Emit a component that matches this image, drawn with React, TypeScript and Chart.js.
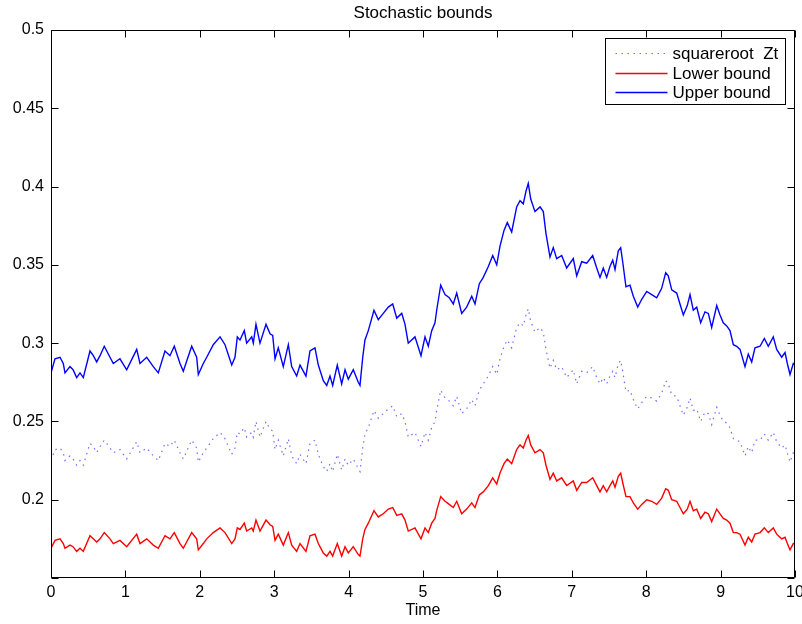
import React, { useEffect, useRef } from 'react';
import { Chart, registerables } from 'chart.js';

Chart.register(...registerables);

const timeValues = [
  0, 0.054, 0.121, 0.165, 0.188, 0.255, 0.296, 0.345, 0.390, 0.434,
  0.524, 0.569, 0.614, 0.659, 0.716, 0.793, 0.837, 0.927, 1.017, 1.152,
  1.196, 1.286, 1.375, 1.442, 1.532, 1.599, 1.657, 1.734, 1.778, 1.891,
  1.958, 1.980, 2.047, 2.093, 2.181, 2.272, 2.339, 2.429, 2.473, 2.504,
  2.540, 2.598, 2.630, 2.698, 2.719, 2.755, 2.809, 2.890, 2.944, 2.980,
  3.011, 3.055, 3.122, 3.190, 3.235, 3.302, 3.347, 3.427, 3.481, 3.548,
  3.593, 3.660, 3.706, 3.750, 3.786, 3.848, 3.907, 3.952, 3.996, 4.063,
  4.130, 4.153, 4.190, 4.220, 4.265, 4.341, 4.399, 4.466, 4.534, 4.593,
  4.647, 4.714, 4.758, 4.802, 4.892, 4.973, 5.027, 5.071, 5.117, 5.161,
  5.184, 5.238, 5.296, 5.353, 5.407, 5.453, 5.520, 5.587, 5.655, 5.699,
  5.757, 5.810, 5.878, 5.937, 5.991, 6.035, 6.089, 6.133, 6.192, 6.259,
  6.304, 6.348, 6.384, 6.415, 6.448, 6.505, 6.573, 6.617, 6.653, 6.707,
  6.751, 6.797, 6.864, 6.931, 7.020, 7.066, 7.133, 7.200, 7.281, 7.335,
  7.379, 7.423, 7.469, 7.513, 7.550, 7.581, 7.625, 7.657, 7.684, 7.728,
  7.782, 7.827, 7.886, 7.940, 8.007, 8.074, 8.141, 8.208, 8.262, 8.297,
  8.343, 8.410, 8.454, 8.499, 8.552, 8.589, 8.633, 8.679, 8.732, 8.790,
  8.835, 8.880, 8.948, 8.992, 9.036, 9.082, 9.126, 9.171, 9.216, 9.261,
  9.328, 9.372, 9.418, 9.462, 9.530, 9.588, 9.641, 9.708, 9.754, 9.821,
  9.866, 9.897, 9.933, 9.977, 10.0,
];

const upperBound = [
  0.281, 0.290, 0.291, 0.287, 0.281, 0.285, 0.283, 0.278, 0.281, 0.278,
  0.295, 0.292, 0.288, 0.292, 0.298, 0.291, 0.287, 0.290, 0.283, 0.296,
  0.287, 0.291, 0.285, 0.281, 0.295, 0.292, 0.298, 0.287, 0.282, 0.298,
  0.291, 0.280, 0.287, 0.291, 0.299, 0.304, 0.299, 0.286, 0.291, 0.304,
  0.302, 0.308, 0.300, 0.304, 0.300, 0.312, 0.300, 0.312, 0.306, 0.305,
  0.290, 0.297, 0.285, 0.299, 0.285, 0.279, 0.286, 0.279, 0.295, 0.297,
  0.286, 0.276, 0.273, 0.279, 0.273, 0.286, 0.274, 0.283, 0.277, 0.283,
  0.275, 0.273, 0.291, 0.302, 0.308, 0.321, 0.315, 0.319, 0.323, 0.325,
  0.316, 0.319, 0.312, 0.300, 0.304, 0.292, 0.304, 0.298, 0.308, 0.313,
  0.321, 0.337, 0.331, 0.329, 0.325, 0.332, 0.319, 0.323, 0.330, 0.325,
  0.338, 0.342, 0.349, 0.356, 0.350, 0.362, 0.372, 0.377, 0.371, 0.387,
  0.391, 0.389, 0.397, 0.402, 0.392, 0.384, 0.387, 0.384, 0.370, 0.355,
  0.361, 0.354, 0.356, 0.348, 0.354, 0.343, 0.352, 0.351, 0.356, 0.348,
  0.342, 0.348, 0.342, 0.349, 0.353, 0.347, 0.359, 0.361, 0.352, 0.336,
  0.337, 0.330, 0.323, 0.328, 0.333, 0.331, 0.329, 0.335, 0.345, 0.343,
  0.334, 0.332, 0.325, 0.318, 0.324, 0.331, 0.321, 0.323, 0.313, 0.320,
  0.319, 0.310, 0.324, 0.318, 0.313, 0.311, 0.308, 0.299, 0.298, 0.296,
  0.285, 0.293, 0.288, 0.297, 0.298, 0.303, 0.298, 0.304, 0.296, 0.291,
  0.294, 0.287, 0.280, 0.287, 0.286,
];

const sqrtZt = [
  0.225, 0.232, 0.233, 0.230, 0.225, 0.228, 0.226, 0.222, 0.225, 0.222,
  0.236, 0.234, 0.230, 0.234, 0.238, 0.233, 0.230, 0.232, 0.226, 0.237,
  0.230, 0.233, 0.228, 0.225, 0.236, 0.234, 0.238, 0.230, 0.226, 0.238,
  0.233, 0.224, 0.230, 0.233, 0.239, 0.243, 0.239, 0.229, 0.233, 0.243,
  0.242, 0.246, 0.240, 0.243, 0.240, 0.250, 0.240, 0.250, 0.245, 0.244,
  0.232, 0.238, 0.228, 0.239, 0.228, 0.223, 0.229, 0.223, 0.236, 0.238,
  0.229, 0.221, 0.218, 0.223, 0.218, 0.229, 0.219, 0.226, 0.222, 0.226,
  0.220, 0.218, 0.233, 0.242, 0.246, 0.257, 0.252, 0.255, 0.258, 0.260,
  0.253, 0.255, 0.250, 0.240, 0.243, 0.234, 0.243, 0.238, 0.246, 0.250,
  0.257, 0.270, 0.265, 0.263, 0.260, 0.266, 0.255, 0.258, 0.264, 0.260,
  0.270, 0.274, 0.279, 0.285, 0.280, 0.290, 0.298, 0.302, 0.297, 0.310,
  0.313, 0.311, 0.318, 0.322, 0.314, 0.307, 0.310, 0.307, 0.296, 0.284,
  0.289, 0.283, 0.285, 0.278, 0.283, 0.274, 0.282, 0.281, 0.285, 0.278,
  0.274, 0.278, 0.274, 0.279, 0.282, 0.278, 0.287, 0.289, 0.282, 0.269,
  0.270, 0.264, 0.258, 0.262, 0.266, 0.265, 0.263, 0.268, 0.276, 0.274,
  0.267, 0.266, 0.260, 0.254, 0.259, 0.265, 0.257, 0.258, 0.250, 0.256,
  0.255, 0.248, 0.259, 0.254, 0.250, 0.249, 0.246, 0.239, 0.238, 0.237,
  0.228, 0.234, 0.230, 0.238, 0.238, 0.242, 0.238, 0.243, 0.237, 0.233,
  0.235, 0.230, 0.224, 0.230, 0.229,
];

const lowerBound = [
  0.169, 0.174, 0.175, 0.172, 0.169, 0.171, 0.170, 0.167, 0.169, 0.167,
  0.177, 0.175, 0.173, 0.175, 0.179, 0.175, 0.172, 0.174, 0.170, 0.178,
  0.172, 0.175, 0.171, 0.169, 0.177, 0.175, 0.179, 0.172, 0.169, 0.179,
  0.175, 0.168, 0.172, 0.175, 0.179, 0.182, 0.179, 0.172, 0.175, 0.182,
  0.181, 0.185, 0.180, 0.182, 0.180, 0.187, 0.180, 0.187, 0.184, 0.183,
  0.174, 0.178, 0.171, 0.179, 0.171, 0.167, 0.172, 0.167, 0.177, 0.178,
  0.172, 0.166, 0.164, 0.167, 0.164, 0.172, 0.164, 0.170, 0.166, 0.170,
  0.165, 0.164, 0.175, 0.181, 0.185, 0.193, 0.189, 0.191, 0.194, 0.195,
  0.190, 0.191, 0.187, 0.180, 0.182, 0.175, 0.182, 0.179, 0.185, 0.188,
  0.193, 0.202, 0.199, 0.197, 0.195, 0.199, 0.191, 0.194, 0.198, 0.195,
  0.203, 0.205, 0.209, 0.214, 0.210, 0.217, 0.223, 0.226, 0.223, 0.232,
  0.235, 0.233, 0.238, 0.241, 0.235, 0.230, 0.232, 0.230, 0.222, 0.213,
  0.217, 0.212, 0.214, 0.209, 0.212, 0.206, 0.211, 0.211, 0.214, 0.209,
  0.205, 0.209, 0.205, 0.209, 0.212, 0.208, 0.215, 0.217, 0.211, 0.202,
  0.202, 0.198, 0.194, 0.197, 0.200, 0.199, 0.197, 0.201, 0.207, 0.206,
  0.200, 0.199, 0.195, 0.191, 0.194, 0.199, 0.193, 0.194, 0.188, 0.192,
  0.191, 0.186, 0.194, 0.191, 0.188, 0.187, 0.185, 0.179, 0.179, 0.178,
  0.171, 0.176, 0.173, 0.178, 0.179, 0.182, 0.179, 0.182, 0.178, 0.175,
  0.176, 0.172, 0.168, 0.172, 0.172,
];

const seriesLabels = ['squareroot  Zt', 'Lower bound', 'Upper bound'];
const chartTitle = 'Stochastic bounds';
const xAxisTitle = 'Time';
const xMin = 0;
const xMax = 10;
const yMin = 0.15;
const yMax = 0.5;
const hiddenYTick = 0.15;

const FONT = "'Liberation Sans', Arial, Helvetica, sans-serif";

const toPoints = (ys: number[]) => ys.map((y, i) => ({ x: timeValues[i], y }));

const matlabFrame = {
  id: 'matlabFrame',
  afterDraw(chart: any) {
    const { ctx, chartArea: a, scales } = chart;
    const xs = scales.x;
    const ys = scales.y;
    ctx.save();
    ctx.strokeStyle = '#000';
    ctx.lineWidth = 1;
    const L = Math.round(a.left) + 0.5;
    const R = Math.round(a.right) - 0.5;
    const T = Math.round(a.top) + 0.5;
    const B = Math.round(a.bottom) - 0.5;
    ctx.beginPath();
    ctx.rect(L, T, R - L, B - T);
    const tl = 7;
    xs.ticks.forEach((t: any) => {
      const px = Math.round(xs.getPixelForValue(t.value)) + 0.5;
      ctx.moveTo(px, B); ctx.lineTo(px, B - tl);
      ctx.moveTo(px, T); ctx.lineTo(px, T + tl);
    });
    ys.ticks.forEach((t: any) => {
      const py = Math.round(ys.getPixelForValue(t.value)) + 0.5;
      ctx.moveTo(L, py); ctx.lineTo(L + tl, py);
      ctx.moveTo(R, py); ctx.lineTo(R - tl, py);
    });
    ctx.stroke();

    // title centred over the axes
    ctx.fillStyle = '#000';
    ctx.font = `17px ${FONT}`;
    ctx.textAlign = 'center';
    ctx.textBaseline = 'middle';
    ctx.fillText(chartTitle, (a.left + a.right) / 2, 13);

    // legend box (MATLAB style, inside top-right)
    const boxW = 180;
    const boxH = 66;
    const bx = Math.round(a.right - 10 - boxW) + 0.5;
    const by = Math.round(a.top + 8) + 0.5;
    ctx.fillStyle = '#fff';
    ctx.fillRect(bx, by, boxW, boxH);
    ctx.strokeStyle = '#000';
    ctx.lineWidth = 1;
    ctx.strokeRect(bx, by, boxW, boxH);
    ctx.font = `17px ${FONT}`;
    ctx.textBaseline = 'middle';
    ctx.textAlign = 'left';
    chart.data.datasets.forEach((ds: any, i: number) => {
      const cy = Math.round(by + 14.5 + i * 19.7);
      ctx.save();
      ctx.strokeStyle = ds.borderColor;
      ctx.lineWidth = ds.borderWidth;
      ctx.setLineDash(ds.borderDash || []);
      ctx.beginPath();
      ctx.moveTo(bx + 10, cy + 0.5);
      ctx.lineTo(bx + 62, cy + 0.5);
      ctx.stroke();
      ctx.restore();
      ctx.fillStyle = '#000';
      ctx.fillText(ds.label, bx + 67, cy + 1);
    });
    ctx.restore();
  },
};

export default function App() {
  const canvasRef = useRef<HTMLCanvasElement | null>(null);

  useEffect(() => {
    if (!canvasRef.current) return;
    Chart.defaults.color = '#000';
    const chart = new Chart(canvasRef.current, {
      type: 'line',
      data: {
        datasets: [
          {
            label: seriesLabels[0],
            data: toPoints(sqrtZt),
            borderColor: 'rgba(50,50,255,0.7)',
            borderWidth: 1.2,
            borderDash: [1.5, 4.5],
            pointRadius: 0,
            tension: 0,
          },
          {
            label: seriesLabels[1],
            data: toPoints(lowerBound),
            borderColor: '#ff0000',
            borderWidth: 1.4,
            pointRadius: 0,
            tension: 0,
          },
          {
            label: seriesLabels[2],
            data: toPoints(upperBound),
            borderColor: '#0000ff',
            borderWidth: 1.4,
            pointRadius: 0,
            tension: 0,
          },
        ],
      },
      options: {
        animation: false,
        responsive: false,
        devicePixelRatio: 1,
        layout: { padding: { left: 0, right: 7, top: 30, bottom: 0 } },
        plugins: {
          legend: { display: false },
          tooltip: { enabled: false },
          title: { display: false },
        },
        scales: {
          x: {
            type: 'linear',
            min: xMin,
            max: xMax,
            grid: { display: false, drawTicks: false },
            border: { display: false },
            ticks: {
              stepSize: 1,
              autoSkip: false,
              maxRotation: 0,
              padding: 5,
              color: '#000',
              font: { family: FONT, size: 16 },
            },
            title: {
              display: true,
              text: xAxisTitle,
              color: '#000',
              font: { family: FONT, size: 16 },
              padding: { top: 0, bottom: 4 },
            },
            afterFit: (s: any) => {
              s.height = 46;
              s.paddingLeft = 0;
              s.paddingRight = 0;
            },
          },
          y: {
            type: 'linear',
            min: yMin,
            max: yMax,
            grid: { display: false, drawTicks: false },
            border: { display: false },
            ticks: {
              stepSize: 0.05,
              padding: 7,
              color: '#000',
              font: { family: FONT, size: 16 },
              callback: (v: any) => {
                const n = Number(v);
                if (Math.abs(n - hiddenYTick) < 1e-9) return '';
                return String(Number(n.toFixed(2)));
              },
            },
            afterFit: (s: any) => {
              s.width = 51;
              s.paddingTop = 0;
              s.paddingBottom = 0;
            },
          },
        },
      },
      plugins: [matlabFrame],
    } as any);
    return () => chart.destroy();
  }, []);

  return (
    <div style={{ position: 'absolute', left: 0, top: 0, width: 802, height: 624, background: '#fff' }}>
      <canvas ref={canvasRef} width={802} height={624} style={{ display: 'block', width: 802, height: 624 }} />
    </div>
  );
}
